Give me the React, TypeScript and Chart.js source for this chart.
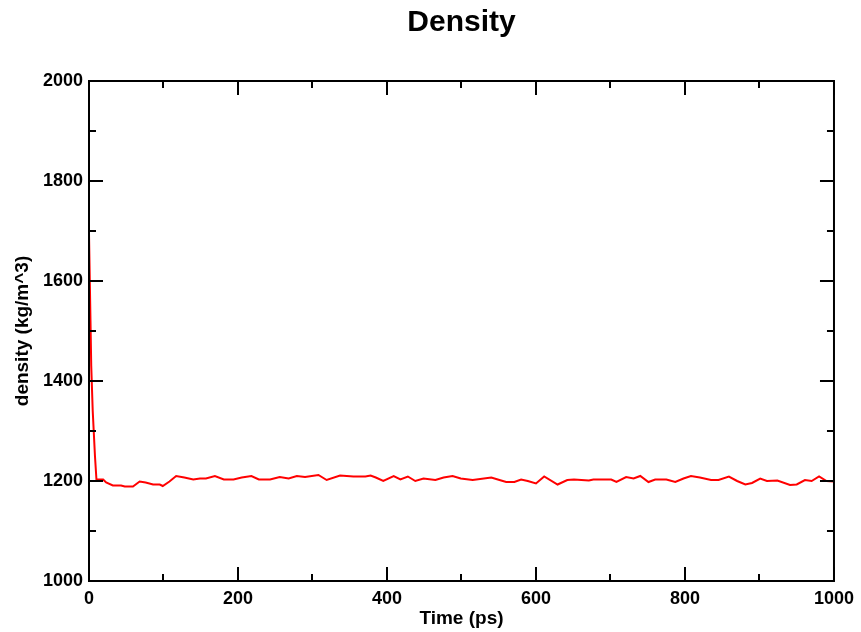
import React, { useEffect, useRef } from 'react';
import { Chart, registerables } from 'chart.js';

Chart.register(...registerables);

const chartTitle = 'Density';
const xAxisLabel = 'Time (ps)';
const yAxisLabel = 'density (kg/m^3)';

const timePs = [
  0, 2, 3, 5, 8, 10, 19, 23, 32, 43,
  48, 59, 68, 76, 86, 95, 99, 108, 117, 128,
  140, 149, 157, 169, 181, 194, 205, 218, 228, 243,
  256, 268, 279, 290, 308, 319, 337, 355, 371, 378,
  385, 395, 409, 418, 428, 438, 449, 465, 476, 488,
  499, 515, 540, 551, 560, 571, 580, 589, 600, 611,
  629, 642, 651, 671, 677, 701, 708, 721, 731, 740,
  751, 760, 775, 787, 798, 808, 820, 835, 845, 859,
  870, 881, 890, 901, 910, 924, 941, 950, 961, 970,
  980, 990, 1000,
];

const densityKgM3 = [
  1695, 1520, 1430, 1340, 1250, 1203, 1203, 1197, 1191, 1191,
  1189, 1189, 1199, 1197, 1193, 1193, 1190, 1199, 1210, 1207,
  1203, 1205, 1205, 1210, 1203, 1203, 1207, 1210, 1203, 1203,
  1208, 1205, 1210, 1208, 1212, 1202, 1211, 1209, 1209, 1211,
  1207, 1200, 1210, 1203, 1209, 1200, 1205, 1202, 1207, 1210,
  1205, 1202, 1207, 1202, 1198, 1198, 1203, 1200, 1195, 1209,
  1193, 1202, 1203, 1201, 1203, 1203, 1198, 1208, 1205, 1210,
  1198, 1203, 1203, 1198, 1205, 1210, 1207, 1202, 1202, 1209,
  1200, 1193, 1196, 1205, 1200, 1201, 1192, 1193, 1202, 1200,
  1209, 1200, 1199,
];

const xMajorTicks = [0, 200, 400, 600, 800, 1000];
const xMinorTicks = [100, 300, 500, 700, 900];
const yMajorTicks = [1000, 1200, 1400, 1600, 1800, 2000];
const yMinorTicks = [1100, 1300, 1500, 1700, 1900];

const FONT = '"Liberation Sans", Arial, Helvetica, sans-serif';

const gracePlugin = {
  id: 'graceFrame',
  afterDatasetsDraw(chart: any) {
    const { ctx, chartArea: a, scales } = chart;
    const xs = scales.x;
    const ys = scales.y;
    ctx.save();
    ctx.strokeStyle = '#000000';
    ctx.lineWidth = 2;
    ctx.beginPath();
    const xt = (vals: number[], len: number) => {
      vals.forEach((v) => {
        const px = Math.round(xs.getPixelForValue(v));
        ctx.moveTo(px, a.bottom);
        ctx.lineTo(px, a.bottom - len);
        ctx.moveTo(px, a.top);
        ctx.lineTo(px, a.top + len);
      });
    };
    const yt = (vals: number[], len: number) => {
      vals.forEach((v) => {
        const py = Math.round(ys.getPixelForValue(v));
        ctx.moveTo(a.left, py);
        ctx.lineTo(a.left + len, py);
        ctx.moveTo(a.right, py);
        ctx.lineTo(a.right - len, py);
      });
    };
    xt(xMajorTicks, 14);
    xt(xMinorTicks, 7);
    yt(yMajorTicks, 14);
    yt(yMinorTicks, 7);
    ctx.stroke();
    ctx.strokeRect(a.left, a.top, a.right - a.left, a.bottom - a.top);
    ctx.fillStyle = '#000000';
    ctx.font = `bold 30px ${FONT}`;
    ctx.textAlign = 'center';
    ctx.textBaseline = 'middle';
    ctx.fillText(chartTitle, (a.left + a.right) / 2, 23);
    ctx.restore();
  },
};

export default function App() {
  const canvasRef = useRef<HTMLCanvasElement | null>(null);

  useEffect(() => {
    document.body.style.margin = '0';
    const canvas = canvasRef.current;
    if (!canvas) return;
    const points = timePs.map((t, i) => ({ x: t, y: densityKgM3[i] }));
    const chart = new Chart(canvas, {
      type: 'line',
      data: {
        datasets: [
          {
            data: points,
            borderColor: '#ff0000',
            borderWidth: 2,
            pointRadius: 0,
            tension: 0,
            fill: false,
          },
        ],
      },
      options: {
        animation: false,
        responsive: false,
        devicePixelRatio: 1,
        layout: { padding: { top: 81, right: 26, bottom: 0, left: 0 } },
        plugins: {
          legend: { display: false },
          title: { display: false },
          tooltip: { enabled: false },
        },
        scales: {
          x: {
            type: 'linear',
            min: 0,
            max: 1000,
            afterFit: (s: any) => {
              s.height = 51;
            },
            grid: { display: false, drawTicks: false },
            border: { display: false },
            ticks: {
              stepSize: 200,
              padding: 7,
              color: '#000000',
              font: { family: FONT, size: 18, weight: 'bold' },
              maxRotation: 0,
              callback: (v: any) => String(v),
            },
            title: {
              display: true,
              text: xAxisLabel,
              color: '#000000',
              font: { family: FONT, size: 19, weight: 'bold' },
              padding: { top: 0, bottom: 2 },
            },
          },
          y: {
            type: 'linear',
            min: 1000,
            max: 2000,
            afterFit: (s: any) => {
              s.width = 89;
            },
            grid: { display: false, drawTicks: false },
            border: { display: false },
            ticks: {
              stepSize: 200,
              padding: 6,
              color: '#000000',
              font: { family: FONT, size: 18, weight: 'bold' },
              callback: (v: any) => String(v),
            },
            title: {
              display: true,
              text: yAxisLabel,
              color: '#000000',
              font: { family: FONT, size: 19, weight: 'bold' },
              padding: { top: 11, bottom: 0 },
            },
          },
        },
      },
      plugins: [gracePlugin],
    });
    return () => chart.destroy();
  }, []);

  return (
    <canvas
      ref={canvasRef}
      width={861}
      height={632}
      style={{ display: 'block', width: '861px', height: '632px' }}
    />
  );
}
